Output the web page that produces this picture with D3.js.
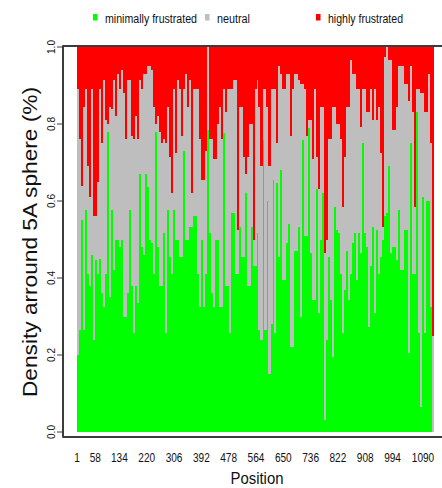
<!DOCTYPE html>
<html><head><meta charset="utf-8">
<script src="https://cdn.jsdelivr.net/npm/d3@7/dist/d3.min.js"></script>
<style>body{margin:0;background:#fff}svg{display:block}text{font-family:"Liberation Sans",Arial,sans-serif;fill:#111}</style>
</head><body><svg id="c" width="442" height="488"></svg>
<script>
const totalPositions = 1124;
const tickLabels = [1,58,134,220,306,392,478,564,650,736,822,908,994,1090];
const yTicks = [0,0.2,0.4,0.6,0.8,1.0];
const legendLabels = ["minimally frustrated","neutral","highly frustrated"];
const seriesColors = ["#00ff00","#bebebe","#ff0000"];
const minimal = [
0.20,0.265,0.55,0.265,0.577,0.41,0.38,0.46,0.24,0.447,
0.41,0.45,0.36,0.325,0.41,0.78,0.35,0.577,0.42,0.50,
0.50,0.48,0.50,0.30,0.30,0.36,0.577,0.38,0.256,0.38,
0.334,0.67,0.48,0.46,0.67,0.637,0.50,0.49,0.41,0.78,
0.48,0.38,0.38,0.516,0.256,0.577,0.455,0.41,0.577,0.50,
0.50,0.455,0.455,0.73,0.50,0.50,0.533,0.533,0.56,0.56,
0.41,0.325,0.50,0.325,0.41,0.784,0.516,0.36,0.325,0.50,
0.50,0.325,0.325,0.776,0.38,0.38,0.256,0.568,0.568,0.41,
0.41,0.533,0.455,0.455,0.62,0.38,0.38,0.533,0.43,0.43,
0.516,0.265,0.24,0.758,0.265,0.60,0.15,0.28,0.655,0.256,
0.646,0.455,0.68,0.395,0.395,0.49,0.54,0.22,0.22,0.47,
0.47,0.533,0.30,0.758,0.51,0.51,0.79,0.464,0.343,0.343,
0.63,0.31,0.50,0.62,0.03,0.24,0.455,0.343,0.196,0.585,
0.525,0.516,0.41,0.256,0.37,0.47,0.343,0.41,0.49,0.516,
0.395,0.516,0.464,0.75,0.516,0.48,0.274,0.43,0.533,0.31,
0.525,0.41,0.455,0.50,0.56,0.568,0.69,0.464,0.48,0.48,
0.447,0.577,0.42,0.42,0.525,0.525,0.204,0.75,0.41,0.41,
0.83,0.256,0.066,0.61,0.256,0.60,0.60,0.325,0
];
const highly = [
0.11,0.24,0.36,0.155,0.11,0.31,0.39,0.11,0.44,0.44,
0.35,0.11,0.25,0.085,0.19,0.2,0.155,0.16,0.085,0.18,
0.07,0.11,0.06,0.12,0.24,0.085,0.085,0.23,0.24,0.18,
0.24,0.085,0.11,0.07,0.07,0.05,0.05,0.06,0.155,0.2,
0.18,0.22,0.25,0.24,0.25,0.155,0.285,0.38,0.11,0.275,
0.085,0.11,0.23,0.11,0.07,0.155,0.085,0.38,0.11,0.11,
0.11,0.24,0.345,0.345,0.27,0,0.24,0.24,0.29,0.29,
0.2,0.155,0.24,0.11,0.17,0.11,0.11,0.11,0.085,0.085,
0.475,0.155,0.155,0.285,0.33,0.285,0.2,0.2,0.5,0.11,
0.085,0.155,0.31,0.11,0.11,0.155,0.31,0.11,0.11,0.11,
0.25,0.05,0.07,0.11,0.11,0.07,0.07,0.23,0.11,0.07,
0.07,0.085,0.095,0.095,0.11,0.23,0.19,0.19,0.29,0.11,
0.285,0.37,0.155,0.155,0.535,0.5,0.24,0.24,0.155,0.155,
0.2,0.2,0.24,0.415,0.285,0.155,0.155,0.034,0.07,0.07,
0.11,0.11,0.207,0.11,0.11,0.17,0.17,0.11,0.19,0.11,
0.19,0.155,0.275,0.467,0.025,0,0.034,0.034,0.216,0.216,
0.155,0.05,0.05,0.05,0.095,0.095,0.14,0.05,0.17,0.415,
0.11,0.11,0.12,0.12,0.17,0.17,0.07,0.25,0.75
];

// ---- build table ----
const K = minimal.length;
const binW = totalPositions / K;
const table = minimal.map((g, i) => ({
  start: 0.5 + i * binW,
  end: 0.5 + (i + 1) * binW,
  minimal: g,
  neutral: Math.max(0, 1 - g - highly[i]),
  highly: highly[i]
}));
const keys = ["minimal","neutral","highly"];

const svg = d3.select("#c");
const x = d3.scaleLinear().domain([0.5, totalPositions + 0.5]).range([77, 434]);
const y = d3.scaleLinear().domain([0, 1]).range([432, 47]);
const color = d3.scaleOrdinal().domain(keys).range(seriesColors);

const stacked = d3.stack().keys(keys)(table);
svg.append("g").selectAll("g").data(stacked).join("g")
  .attr("fill", d => color(d.key))
  .selectAll("rect").data(d => d).join("rect")
  .attr("shape-rendering", "crispEdges")
  .attr("x", d => x(d.data.start))
  .attr("width", d => x(d.data.end) - x(d.data.start) + 0.05)
  .attr("y", d => y(d[1]))
  .attr("height", d => Math.max(0, y(d[0]) - y(d[1])));

// frame
svg.append("rect").attr("x", 63).attr("y", 46).attr("width", 400).attr("height", 391)
  .attr("fill", "none").attr("stroke", "#3c3c3c").attr("stroke-width", 2).attr("stroke-linejoin", "round");

// y axis ticks + labels
const yAx = svg.append("g");
yAx.selectAll("line").data(yTicks).join("line")
  .attr("x1", 57).attr("x2", 63).attr("y1", d => y(d)).attr("y2", d => y(d))
  .attr("stroke", "#3c3c3c").attr("stroke-width", 1);
yAx.selectAll("text").data(yTicks).join("text")
  .attr("transform", d => `translate(55,${y(d)}) rotate(-90)`)
  .attr("text-anchor", "middle").attr("font-size", 11)
  .attr("textLength", 14).attr("lengthAdjust", "spacingAndGlyphs")
  .text(d => d.toFixed(1));

// x labels (no tick marks)
svg.append("g").selectAll("text").data(tickLabels).join("text")
  .attr("x", d => x(d)).attr("y", 461.5)
  .attr("text-anchor", "middle").attr("font-size", 13.5)
  .attr("textLength", d => String(d).length * 5.6).attr("lengthAdjust", "spacingAndGlyphs")
  .text(d => d);

// axis titles
svg.append("text").attr("x", 257).attr("y", 484).attr("text-anchor", "middle")
  .attr("font-size", 16.5).attr("textLength", 53).attr("lengthAdjust", "spacingAndGlyphs").text("Position");
svg.append("text").attr("transform", "translate(36.5,242) rotate(-90)").attr("text-anchor", "middle")
  .attr("font-size", 20).attr("textLength", 310).attr("lengthAdjust", "spacingAndGlyphs")
  .text("Density arround 5A sphere (%)");

// legend
const legX = [93, 205, 316];
const legW = [92, 33, 75];
const leg = svg.append("g");
legendLabels.forEach((lab, i) => {
  leg.append("rect").attr("x", legX[i]).attr("y", 14).attr("width", 4.5).attr("height", 6.5).attr("fill", seriesColors[i]);
  leg.append("text").attr("x", legX[i] + 12).attr("y", 23).attr("font-size", 12.5)
    .attr("textLength", legW[i]).attr("lengthAdjust", "spacingAndGlyphs").text(lab);
});
</script>
</body></html>
